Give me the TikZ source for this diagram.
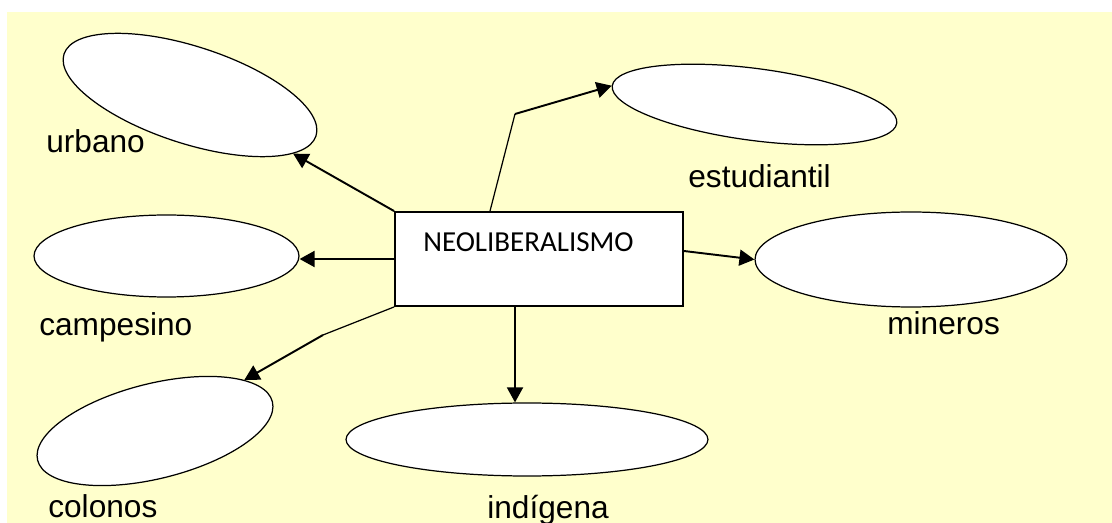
\documentclass[tikz,border=0pt]{standalone}
\usepackage{fontspec}
\setmainfont{Liberation Sans}
\newfontfamily\calibri{Carlito}
\usetikzlibrary{shapes.geometric,arrows.meta}
\definecolor{fondo}{RGB}{255,255,204}

\begin{document}
\begin{tikzpicture}[x=0.02cm,y=-0.02cm,
    grupo/.style={ellipse,draw,fill=white,line width=0.7pt,inner sep=0pt},
    etiqueta/.style={anchor=base west,inner sep=0pt,font=\fontsize{18}{21}\selectfont},
    flecha/.style={line width=1.1pt,-{Triangle[length=0.3cm,width=0.32cm]}},
    linea/.style={line width=0.7pt}]
    \useasboundingbox (0,0) rectangle (1112,523);
    \fill[fondo] (7,12) rectangle (1112,523);
    % centro
    \node[draw,fill=white,line width=1.1pt,minimum width=5.76cm,minimum height=1.88cm,inner sep=0pt] (neo) at (539,259) {};
    \node[anchor=base west,inner sep=0pt,font=\calibri\fontsize{16.5}{20}\selectfont] (neotxt) at (423,252) {NEOLIBERALISMO};
    % grupos
    \node[grupo,minimum width=5.3cm,minimum height=1.94cm,rotate=-18] (urb) at (190,95) {};
    \node[grupo,minimum width=5.3cm,minimum height=1.64cm] (camp) at (166.5,256) {};
    \node[grupo,minimum width=4.84cm,minimum height=1.9cm,rotate=14] (col) at (155,431) {};
    \node[grupo,minimum width=7.24cm,minimum height=1.46cm] (ind) at (527,439.5) {};
    \node[grupo,minimum width=5.74cm,minimum height=1.44cm,rotate=-7.5] (est) at (754.5,104.5) {};
    \node[grupo,minimum width=6.24cm,minimum height=1.9cm] (min) at (911,259.5) {};
    % etiquetas
    \node[etiqueta] (urbtxt) at (46,153) {urbano};
    \node[etiqueta] (camptxt) at (39,336) {campesino};
    \node[etiqueta] (coltxt) at (48,517) {colonos};
    \node[etiqueta] (indtxt) at (487,518) {indígena};
    \node[etiqueta] (esttxt) at (688,188) {estudiantil};
    \node[etiqueta] (mintxt) at (887,335) {mineros};
    % flechas
    \draw[flecha] (neo.north west) -- (urb);
    \draw[flecha] (neo.west) -- (neo.west -| camp.east);
    \coordinate (codo1) at (323,335);
    \draw[linea] (neo.south west) -- (codo1);
    \draw[flecha] (codo1) -- (col);
    \draw[flecha] ([xshift=-0.48cm]neo.south) -- ([xshift=-0.48cm]neo.south |- ind.north);
    \coordinate (codo2) at (515,114);
    \draw[linea] ([xshift=-0.98cm]neo.north) -- (codo2);
    \draw[flecha] (codo2) -- (est.west);
    \draw[flecha] ([yshift=0.16cm]neo.east) -- (min.west);
\end{tikzpicture}
\end{document}
